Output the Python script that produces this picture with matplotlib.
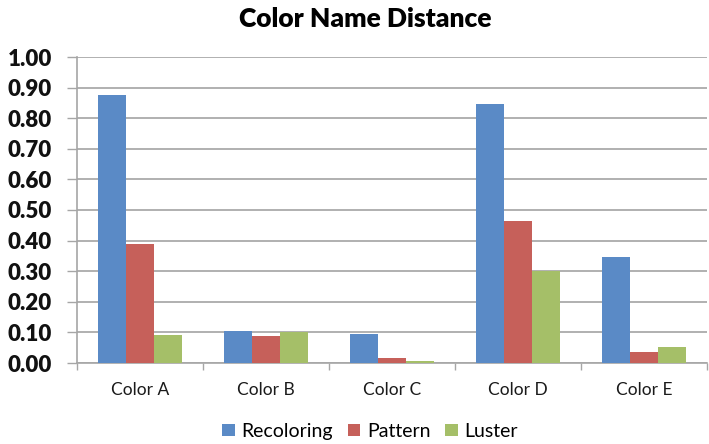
import matplotlib
matplotlib.use("Agg")
import matplotlib.pyplot as plt
import numpy as np

categories = ["Color A", "Color B", "Color C", "Color D", "Color E"]
recoloring = [0.876, 0.105, 0.095, 0.846, 0.346]
pattern = [0.389, 0.088, 0.016, 0.464, 0.036]
luster = [0.092, 0.100, 0.008, 0.300, 0.052]
series_names = ["Recoloring", "Pattern", "Luster"]
yticks = [0.0, 0.1, 0.2, 0.3, 0.4, 0.5, 0.6, 0.7, 0.8, 0.9, 1.0]

colors = ["#5A8AC6", "#C6605A", "#A5BF68"]
plt.rcParams["font.family"] = ["Lato", "DejaVu Sans"]

fig = plt.figure(figsize=(7.09, 4.44), dpi=100)
ax = fig.add_axes([77 / 709, (444 - 363) / 444, 630 / 709, 306 / 444])

x = np.arange(len(categories))
w = 2 / 9
for i, (vals, name) in enumerate(zip([recoloring, pattern, luster], series_names)):
    ax.bar(x + (i - 1) * w, vals, width=w, color=colors[i], label=name, zorder=3)

ax.set_xlim(-0.5, len(categories) - 0.5)
ax.set_ylim(0, 1.0)
ax.set_yticks(yticks)
ax.set_yticklabels([f"{t:.2f}" for t in yticks], fontsize=16, fontweight="heavy",
                   color="#111111")
ax.yaxis.grid(True, color="#B0B0B0", linewidth=1.4, zorder=0)
ax.set_axisbelow(True)

ax.set_xticks(x)
ax.set_xticklabels(categories, fontsize=12.5, color="#1a1a1a")
ax.tick_params(axis="x", length=0, pad=14)
ax.set_xticks(np.arange(-0.5, len(categories) + 0.5, 1), minor=True)
ax.tick_params(axis="x", which="minor", length=5, color="#A6A6A6", width=1)
ax.tick_params(axis="y", length=7, color="#A6A6A6", width=1, pad=11)

for s in ["top", "right"]:
    ax.spines[s].set_visible(False)
for s in ["left", "bottom"]:
    ax.spines[s].set_color("#A6A6A6")
    ax.spines[s].set_linewidth(1.2)

fig.suptitle("Color Name Distance", x=0.515, y=0.985, fontsize=19, fontweight="heavy")

leg = fig.legend(loc="lower center", bbox_to_anchor=(0.522, -0.03), ncol=3, frameon=False,
                 fontsize=14, handlelength=0.65, handleheight=0.65, handletextpad=0.35,
                 columnspacing=0.75)

fig.savefig("out.png", dpi=100)
